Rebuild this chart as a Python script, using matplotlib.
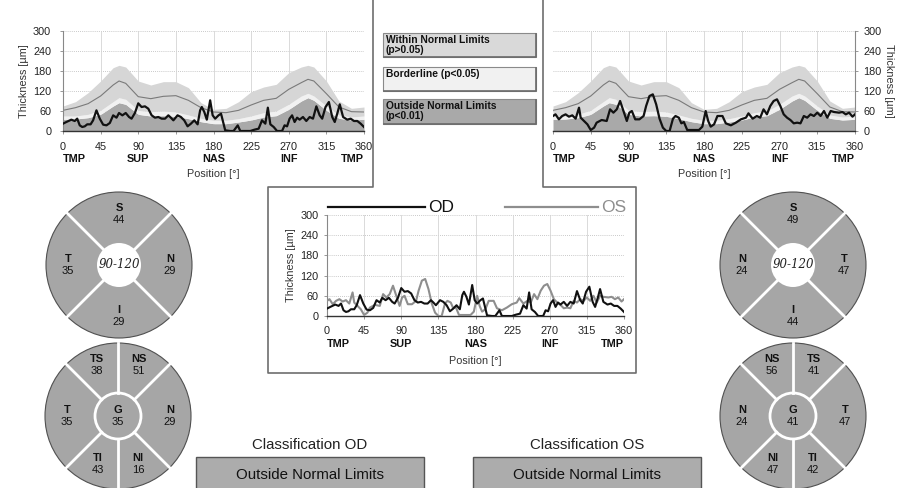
import numpy as np
import matplotlib
matplotlib.use('Agg')
import matplotlib.pyplot as plt
from matplotlib.patches import Circle, Rectangle

plt.rcParams['font.family'] = ['Liberation Sans', 'DejaVu Sans']

W, H = 897, 488

# normative RNFL bands (percentiles) along the scan circle
norm_pos = [0, 15, 30, 45, 60, 67, 75, 90, 105, 120, 135, 150, 165, 180,
            195, 210, 225, 240, 255, 270, 285, 293, 300, 315, 330, 345, 360]
norm_p1 = [35, 36, 40, 50, 75, 85, 80, 50, 45, 46, 44, 37, 28, 22,
           22, 27, 33, 42, 46, 65, 90, 100, 92, 62, 38, 33, 35]
norm_p5 = [45, 45, 50, 62, 88, 100, 95, 62, 58, 60, 57, 48, 38, 32,
           32, 37, 45, 55, 60, 80, 105, 113, 105, 75, 48, 42, 45]
norm_mean = [62, 70, 82, 105, 138, 150, 143, 103, 97, 104, 106, 92, 70, 57,
             55, 62, 78, 92, 98, 125, 145, 155, 150, 112, 72, 58, 57]
norm_upper = [75, 88, 115, 150, 190, 197, 192, 150, 138, 148, 148, 130, 85, 65,
              68, 88, 118, 132, 140, 175, 192, 197, 192, 150, 90, 68, 72]

# measured thickness, right eye
od_pos = [0, 4, 10, 14, 17, 20, 23, 26, 29, 33, 36, 40, 44, 48, 52, 56, 60, 64, 67, 71,
          75, 79, 82, 86, 90, 94, 98, 102, 106, 110, 114, 118, 122, 126, 129, 132, 137,
          141, 145, 149, 153, 157, 161, 164, 166, 169, 172, 176, 179, 182, 186, 189, 191,
          194, 200, 204, 209, 212, 224, 229, 234, 238, 242, 245, 248, 252, 256, 262, 265,
          268, 271, 274, 277, 280, 283, 287, 291, 295, 299, 303, 307, 310, 314, 318, 322,
          325, 328, 331, 335, 340, 344, 348, 352, 356, 360]
od_thick = [22, 27, 34, 30, 37, 17, 12, 14, 20, 20, 32, 62, 37, 19, 17, 24, 47, 40, 54, 47,
            54, 42, 37, 54, 83, 72, 74, 67, 47, 40, 42, 37, 37, 47, 40, 32, 47,
            42, 32, 14, 22, 32, 20, 62, 72, 57, 34, 92, 47, 37, 47, 52, 32,
            2, 0, 0, 17, 0, 0, 4, 7, 32, 22, 70, 20, 12, 0, 0, 17,
            14, 37, 47, 27, 40, 34, 42, 30, 42, 37, 74, 47, 37, 72, 87, 42,
            27, 52, 80, 42, 34, 37, 30, 30, 22, 12]

# measured thickness, left eye
os_pos = [0, 3, 7, 11, 15, 19, 23, 27, 31, 33, 37, 41, 45, 49, 52, 58, 64, 68, 72, 76,
          80, 84, 88, 91, 94, 98, 103, 108, 111, 115, 119, 123, 127, 131, 135, 139, 143,
          146, 150, 153, 156, 160, 166, 174, 178, 182, 185, 188, 192, 196, 202, 206, 212,
          218, 224, 230, 233, 238, 243, 247, 251, 255, 259, 263, 267, 271, 275, 279, 283,
          287, 291, 295, 299, 303, 307, 311, 315, 319, 323, 327, 331, 335, 341, 345, 349,
          353, 357, 360]
os_thick = [45, 50, 35, 45, 50, 43, 47, 37, 70, 40, 30, 20, 3, 10, 25, 33, 30, 65, 55, 65,
            90, 60, 30, 55, 60, 35, 35, 45, 75, 105, 110, 80, 37, 10, 0, 0, 37,
            45, 40, 23, 27, 3, 3, 3, 13, 60, 30, 13, 20, 45, 45, 23, 17,
            25, 35, 40, 53, 37, 45, 40, 65, 50, 75, 90, 95, 75, 50, 40, 33,
            23, 25, 23, 45, 40, 50, 45, 55, 45, 60, 40, 60, 57, 55, 57, 50,
            55, 43, 50]

x_ticks = [0, 45, 90, 135, 180, 225, 270, 315, 360]
y_ticks = [0, 60, 120, 180, 240, 300]
quad_names = ['TMP', 'SUP', 'NAS', 'INF', 'TMP']
quad_pos = [0, 90, 180, 270, 360]

# sector averages shown on the fundus diagrams
od_quad_names = ['S', 'T', 'N', 'I']
od_quad_vals = [44, 35, 29, 29]
os_quad_names = ['S', 'N', 'T', 'I']
os_quad_vals = [49, 24, 47, 44]
od_sector_names = ['TS', 'NS', 'T', 'G', 'N', 'TI', 'NI']
od_sector_vals = [38, 51, 35, 35, 29, 43, 16]
os_sector_names = ['NS', 'TS', 'N', 'G', 'T', 'NI', 'TI']
os_sector_vals = [56, 41, 24, 41, 47, 47, 42]

legend_texts = ['Within Normal Limits\n(p>0.05)', 'Borderline (p<0.05)',
                'Outside Normal Limits\n(p<0.01)']
legend_colors = ['#d9d9d9', '#f1f1f1', '#a9a9a9']
class_od = 'Outside Normal Limits'
class_os = 'Outside Normal Limits'

C_OUT, C_BORDER, C_WITHIN = '#a9a9a9', '#f1f1f1', '#d6d6d6'
FS = 7.8

fig = plt.figure(figsize=(W / 100, H / 100), dpi=100)
fig.patch.set_facecolor('white')

# full-figure layer in pixel units for frames, diagrams and boxes
bg = fig.add_axes([0, 0, 1, 1], zorder=0)
bg.set_xlim(0, W)
bg.set_ylim(H, 0)
bg.axis('off')


def px_axes(l, t, r, b):
    return fig.add_axes([l / W, 1 - b / H, (r - l) / W, (b - t) / H], zorder=2)


def below(ax, x, txt, off_px, **kw):
    ax.annotate(txt, xy=(x, 0), xycoords=('data', 'axes fraction'),
                xytext=(0, -off_px * 0.72), textcoords='offset points',
                va='center', annotation_clip=False, **kw)


def style_chart(ax, side, offs):
    ax.set_facecolor('none')
    ax.set_xlim(0, 360)
    ax.set_ylim(0, 300)
    for y in y_ticks[1:]:
        ax.axhline(y, color='#b8b8b8', lw=0.6, ls=(0, (1, 1.5)), zorder=0)
    for x in x_ticks[1:-1]:
        ax.axvline(x, color='#d4d4d4', lw=0.6, zorder=0)
    ax.set_xticks(x_ticks)
    ax.set_yticks(y_ticks)
    ax.spines['top'].set_visible(False)
    ax.spines['bottom'].set_color('#333333')
    ax.spines['bottom'].set_linewidth(1.0)
    if side == 'right':
        ax.spines['left'].set_visible(False)
        ax.spines['right'].set_color('#888888')
        ax.yaxis.tick_right()
        ax.yaxis.set_label_position('right')
        ax.set_ylabel('Thickness [µm]', fontsize=FS, rotation=270, labelpad=9,
                      color='#333333')
    else:
        ax.spines['right'].set_visible(False)
        ax.spines['left'].set_color('#888888')
        ax.set_ylabel('Thickness [µm]', fontsize=FS, labelpad=3, color='#333333')
    ax.tick_params(axis='both', labelsize=FS, length=2.5, width=0.6,
                   colors='#888888', labelcolor='#222222')
    ax.tick_params(axis='x', pad=offs[0])
    ax.tick_params(axis='y', pad=offs[1])
    for name, p in zip(quad_names, quad_pos):
        ha = 'left' if p == 0 else ('right' if p == 360 else 'center')
        below(ax, p, name, offs[2], ha=ha, fontsize=FS, fontweight='bold',
              color='#111111')
    below(ax, 180, 'Position [°]', offs[3], ha='center', fontsize=FS, color='#333333')


def normative(ax):
    ax.fill_between(norm_pos, 0, norm_p1, color=C_OUT, lw=0, zorder=1)
    ax.fill_between(norm_pos, norm_p1, norm_p5, color=C_BORDER, lw=0, zorder=1)
    ax.fill_between(norm_pos, norm_p5, norm_upper, color=C_WITHIN, lw=0, zorder=1)
    ax.plot(norm_pos, norm_mean, color='#7a7a7a', lw=0.8, zorder=2)


# right eye profile
ax_od = px_axes(63, 31, 364, 131)
normative(ax_od)
ax_od.plot(od_pos, od_thick, color='#111111', lw=1.6, zorder=3)
style_chart(ax_od, 'left', (5.5, 6, 28, 43))

# left eye profile
ax_os = px_axes(553, 31, 855, 131)
normative(ax_os)
ax_os.plot(os_pos, os_thick, color='#111111', lw=1.6, zorder=3)
style_chart(ax_os, 'right', (5.5, 3.5, 28, 43))

# both eyes overlaid
ax_c = px_axes(327, 215, 624, 316)
ax_c.plot(os_pos, os_thick, color='#8e8e8e', lw=1.5, zorder=3)
ax_c.plot(od_pos, od_thick, color='#111111', lw=1.5, zorder=3)
style_chart(ax_c, 'left', (5.0, 3.5, 28, 45))

# panel frames
bg.plot([373, 373, 268, 268, 636, 636, 543, 543],
        [0, 187, 187, 373, 373, 187, 187, 0], color='#6e6e6e', lw=1.2)

# overlay legend
bg.plot([328, 425], [207, 207], color='#111111', lw=1.6)
bg.text(428, 207, 'OD', fontsize=12.5, va='center', ha='left', color='#111111')
bg.plot([505, 598], [207, 207], color='#8e8e8e', lw=1.6)
bg.text(601, 207, 'OS', fontsize=12.5, va='center', ha='left', color='#8e8e8e')

# classification legend boxes
for (t, b), txt, col in zip([(33, 57), (67, 91), (99, 124)], legend_texts, legend_colors):
    bg.add_patch(Rectangle((383, t), 153, b - t, facecolor=col, edgecolor='#8a8a8a', lw=0.8))
    bg.plot([384, 536, 536], [b, b, t + 1], color='#6a6a6a', lw=1.2)
    bg.text(386, t + 2, txt, fontsize=7.4, fontweight='bold', va='top', ha='left',
            color='#111111', linespacing=1.05)

# fundus diagrams
DISC = '#a6a6a6'


def two_line(x, y, name, val):
    bg.text(x, y - 6, name, fontsize=8, fontweight='bold', ha='center', va='center',
            color='#111111')
    bg.text(x, y + 6, str(val), fontsize=8, ha='center', va='center', color='#111111')


def pt(cx, cy, r, deg):
    a = np.deg2rad(deg)
    return cx + r * np.cos(a), cy - r * np.sin(a)


def quad_disc(cx, cy, names, vals, angles):
    bg.add_patch(Circle((cx, cy), 73, facecolor=DISC, edgecolor='#505050', lw=0.8))
    for a in [45, 135, 225, 315]:
        x0, y0 = pt(cx, cy, 20, a)
        x1, y1 = pt(cx, cy, 73, a)
        bg.plot([x0, x1], [y0, y1], color='white', lw=2)
    bg.add_patch(Circle((cx, cy), 22, facecolor='white', edgecolor='none'))
    bg.text(cx, cy - 1, '90-120', fontsize=8.5, family='DejaVu Serif', style='italic',
            ha='center', va='center', color='#222222')
    for n, v, a in zip(names, vals, angles):
        x, y = pt(cx, cy, 51, a)
        two_line(x, y, n, v)


def sector_disc(cx, cy, names, vals, angles, radii):
    bg.add_patch(Circle((cx, cy), 73, facecolor=DISC, edgecolor='#505050', lw=0.8))
    for a in [45, 90, 135, 225, 270, 315]:
        x0, y0 = pt(cx, cy, 23, a)
        x1, y1 = pt(cx, cy, 73, a)
        bg.plot([x0, x1], [y0, y1], color='white', lw=2)
    bg.add_patch(Circle((cx, cy), 23, facecolor=DISC, edgecolor='white', lw=2))
    for n, v, a, r in zip(names, vals, angles, radii):
        x, y = pt(cx, cy, r, a)
        two_line(x, y, n, v)


sector_angles = [112.5, 67.5, 180, 0, 0, 247.5, 292.5]
sector_radii = [55, 55, 51, 0, 52, 52, 52]

quad_disc(119, 265, od_quad_names, od_quad_vals, [90, 180, 0, 270])
sector_disc(118, 416, od_sector_names, od_sector_vals, sector_angles, sector_radii)
quad_disc(793, 265, os_quad_names, os_quad_vals, [90, 180, 0, 270])
sector_disc(793, 416, os_sector_names, os_sector_vals, sector_angles, sector_radii)

# overall classification
for x0, title, res in [(196, 'Classification OD', class_od), (473, 'Classification OS', class_os)]:
    bg.text(x0 + 114, 445, title, fontsize=10.8, ha='center', va='center', color='#222222')
    bg.add_patch(Rectangle((x0, 457), 228, 45, facecolor='#acacac', edgecolor='#555555', lw=1))
    bg.text(x0 + 114, 475, res, fontsize=10.8, ha='center', va='center', color='#111111')

fig.savefig('out.png', dpi=100)
